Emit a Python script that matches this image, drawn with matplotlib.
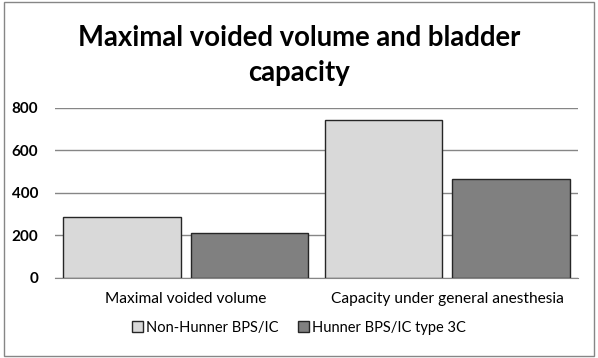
import matplotlib.pyplot as plt
import numpy as np
from matplotlib.patches import Rectangle

categories = ["Maximal voided volume", "Capacity under general anesthesia"]
series_names = ["Non-Hunner BPS/IC", "Hunner BPS/IC type 3C"]
non_hunner = [288, 743]
hunner = [210, 464]
yticks = [0, 200, 400, 600, 800]

plt.rcParams['font.family'] = ['Lato', 'DejaVu Sans']

fig = plt.figure(figsize=(5.98, 3.58), dpi=100)
fig.patches.append(Rectangle((0.006, 0.006), 0.988, 0.988, transform=fig.transFigure,
                             fill=False, edgecolor='#868686', linewidth=1))

ax = fig.add_axes([0.092, 0.2235, 0.8746, 0.4749])
x = np.arange(len(categories))
w = 0.45
ax.bar(x - 0.244, non_hunner, w, color='#d9d9d9', edgecolor='#262626', linewidth=1,
       label=series_names[0], zorder=3)
ax.bar(x + 0.244, hunner, w, color='#808080', edgecolor='#262626', linewidth=1,
       label=series_names[1], zorder=3)

ax.set_xlim(-0.5, 1.5)
ax.set_ylim(0, 800)
ax.set_yticks(yticks)
ax.set_yticklabels([str(v) for v in yticks], fontsize=11, fontweight='bold')
ax.set_xticks(x)
ax.set_xticklabels(categories, fontsize=11.2)
ax.tick_params(axis='x', length=0, pad=10)
ax.tick_params(axis='y', length=0, pad=12)
ax.grid(axis='y', color='#868686', linewidth=1, zorder=0)
for s in ['top', 'right', 'left']:
    ax.spines[s].set_visible(False)
ax.spines['bottom'].set_color('#868686')
ax.spines['bottom'].set_zorder(0)

fig.text(0.5, 0.895, "Maximal voided volume and bladder", ha='center', va='center',
         fontsize=19.8, fontweight='bold')
fig.text(0.5, 0.795, "capacity", ha='center', va='center', fontsize=19.8, fontweight='bold')

fig.legend(loc='center', bbox_to_anchor=(0.5, 0.085), ncol=2, frameon=False, fontsize=10.5,
           handlelength=0.8, handleheight=0.8, handletextpad=0.2, columnspacing=1.3)

fig.savefig('out.png', dpi=100)
